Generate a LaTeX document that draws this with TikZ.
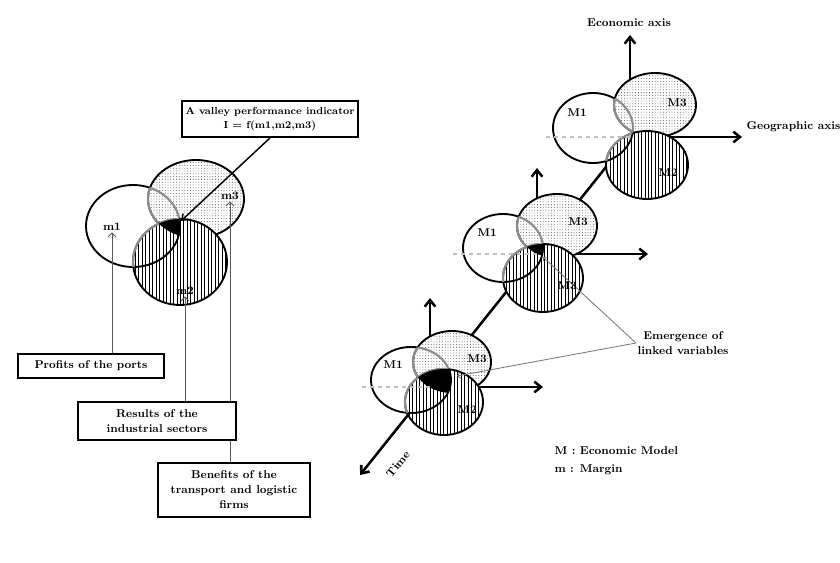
\documentclass[tikz,border=0pt]{standalone}
\usepackage{fontspec}
\usetikzlibrary{arrows.meta,patterns.meta}
\pgfdeclarelayer{bg}
\pgfsetlayers{bg,main}
\tikzset{
  txt/.style={font=\fontsize{8.5}{11.25}\selectfont\bfseries, inner sep=1pt},
  infobox/.style={txt, draw, line width=1.4pt, fill=white, align=center, inner sep=2pt},
  rim/.style={line width=1.4pt},
  faded/.style={line width=1.6pt, black!45},
  dotfill/.style={pattern={Dots[distance=2.1pt,radius=0.35pt]}, pattern color=black!70},
  linefill/.style={pattern={Lines[angle=90,distance=2.6pt,line width=0.45pt]}, pattern color=black},
  axis/.style={line width=1.9pt, -{Straight Barb[length=5pt,width=8pt]}},
  backaxis/.style={black!25, dashed, line width=0.8pt},
  feed/.style={line width=0.7pt, black!65, -{Straight Barb[length=3pt,width=6pt]}},
  pointer/.style={line width=0.6pt, black!55, -{Straight Barb[length=2pt,width=4pt]}}
}
% three overlapping models: #1/#2 = M1, #3/#4 = M3, #5/#6 = M2
\newcommand{\drawtriple}[6]{%
  \fill[white] (#1) ellipse (#2);
  \draw[rim] (#1) ellipse (#2);
  \fill[white] (#3) ellipse (#4);
  \fill[dotfill] (#3) ellipse (#4);
  \draw[rim] (#3) ellipse (#4);
  \begin{scope}\clip (#3) ellipse (#4); \draw[faded] (#1) ellipse (#2);\end{scope}
  \begin{scope}\clip (#1) ellipse (#2); \draw[faded] (#3) ellipse (#4);\end{scope}
  \fill[white] (#5) ellipse (#6);
  \fill[linefill] (#5) ellipse (#6);
  \draw[rim] (#5) ellipse (#6);
  \begin{scope}\clip (#5) ellipse (#6); \draw[rim] (#1) ellipse (#2);\end{scope}
  \begin{scope}\clip (#1) ellipse (#2); \draw[faded] (#5) ellipse (#6);\end{scope}
}
\newcommand{\drawcore}[6]{%
  \begin{scope}\clip (#1) ellipse (#2); \clip (#3) ellipse (#4); \fill (#5) ellipse (#6);\end{scope}
}
\begin{document}
\begin{tikzpicture}[x=0.75pt,y=-0.75pt]
\useasboundingbox (0,0) rectangle (840,563);

% left part: margins and their sources
\node[infobox, font=\fontsize{7.6}{10.5}\selectfont\bfseries, minimum width=132pt, minimum height=27pt] (valley) at (270,119) {A valley performance indicator\\I = f(m1,m2,m3)};
\node[infobox, minimum width=109.5pt, minimum height=18pt] (profits) at (91,366) {Profits of the ports};
\node[infobox, minimum width=118.5pt, minimum height=28.5pt] (results) at (157,421) {Results of the\\industrial sectors};
\node[infobox, minimum width=114pt, minimum height=40.5pt] (benefits) at (234,490) {Benefits of the\\transport and logistic\\firms};
\node[txt] (lm1) at (112,227) {m1};
\node[txt] (lm3) at (230,196) {m3};
\node[txt] (lm2) at (185,291) {m2};
\coordinate (core) at (181,221);

% right part: models along the time axis
\coordinate (o1) at (630,137);
\coordinate (o2) at (537,254);
\coordinate (o3) at (430,387);
\coordinate (tend) at (360,475);
\coordinate (e1) at (630,35);
\coordinate (e2) at (537,168);
\coordinate (e3) at (430,298);
\coordinate (g1) at (742,137);
\coordinate (g2) at (648,254);
\coordinate (g3) at (543,387);
\coordinate (p2) at (543,257);
\coordinate (p3) at (457,376);
\node[txt] (econ) at (629,23) {Economic axis};
\node[txt, anchor=west] (geo) at (745,127) {Geographic axis};
\node[txt, rotate=51, inner sep=0pt] (time) at (398,464) {Time};
\node[txt, align=center] (emerg) at (683,343) {Emergence of\\linked variables};
\node[txt, anchor=west] (legM) at (553,451) {M : Economic Model};
\node[txt, anchor=west] (legm) at (553,470) {m : Margin};
\node[txt] (a1) at (577,113) {M1};
\node[txt] (a3) at (677,103) {M3};
\node[txt] (a2) at (668,173) {M2};
\node[txt] (b1) at (487,233) {M1};
\node[txt] (b3) at (578,222) {M3};
\node[txt] (b2) at (567,286) {M3};
\node[txt] (c1) at (393,365) {M1};
\node[txt] (c3) at (477,359) {M3};
\node[txt] (c2) at (467,410) {M2};

\begin{pgfonlayer}{bg}
\fill[white] (0,0) rectangle (840,563);
% axes behind the models
\draw[axis] (o1) -- (tend);
\draw[axis] (o1) -- (e1);
\draw[axis] (o1) -- (g1);
\draw[axis] (o2) -- (e2);
\draw[axis] (o2) -- (g2);
\draw[axis] (o3) -- (e3);
\draw[axis] (o3) -- (g3);
% models
\drawtriple{133,226}{47 and 41}{196,199}{48 and 39}{180,262}{47 and 43}
\drawcore{133,226}{47 and 41}{196,199}{48 and 39}{180,262}{47 and 43}
\drawtriple{593,128}{40 and 35}{655,105}{41 and 32}{647,165}{41 and 34}
\drawtriple{503,248}{40 and 34}{557,226}{40 and 32}{543,278}{40 and 34}
\drawcore{503,248}{40 and 34}{557,226}{40 and 32}{543,278}{40 and 34}
\drawtriple{411,380}{40 and 33}{452,362}{39 and 31}{444,402}{39 and 33}
\drawcore{411,380}{40 and 33}{452,362}{39 and 31}{444,402}{39 and 33}
\draw[backaxis] (o1) -- ++(-87,0);
\draw[backaxis] (o2) -- ++(-87,0);
\draw[backaxis] (o3) -- ++(-70,0);
% connectors
\draw[feed] (profits.north -| lm1) -- (lm1.south);
\draw[feed] (results.north -| lm2) -- (lm2.south);
\draw[feed] (benefits.north -| lm3) -- (lm3.south);
\draw[line width=1.1pt, -{Straight Barb[length=4pt,width=6pt]}] (valley.south) -- (core);
\draw[pointer] (emerg.west) -- (p2);
\draw[pointer] (emerg.west) -- (p3);
\end{pgfonlayer}
\end{tikzpicture}
\end{document}
